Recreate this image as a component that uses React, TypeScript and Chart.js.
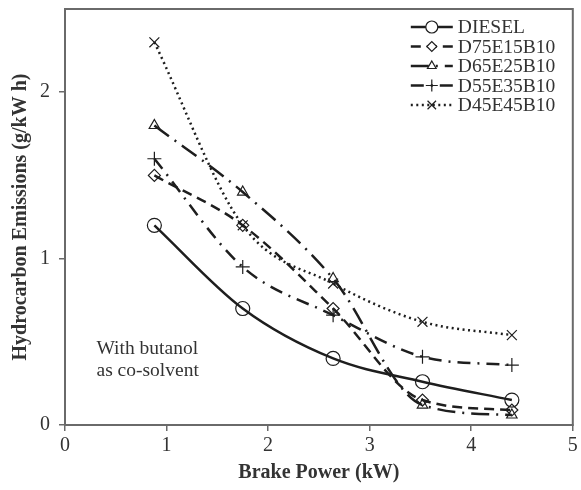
import React, { useEffect, useRef } from 'react';
import { Chart, registerables } from 'chart.js';
import { drawPoint } from 'chart.js/helpers';

Chart.register(...registerables);

// Brake power (kW) at each load step
const brakePower = [0.88, 1.75, 2.64, 3.52, 4.4];

// Hydrocarbon emissions (g/kW h) per fuel blend
const diesel = [1.2, 0.7, 0.4, 0.26, 0.15];
const d75e15b10 = [1.5, 1.2, 0.7, 0.15, 0.09];
const d65e25b10 = [1.8, 1.4, 0.88, 0.12, 0.06];
const d55e35b10 = [1.6, 0.95, 0.66, 0.41, 0.36];
const d45e45b10 = [2.3, 1.2, 0.85, 0.62, 0.54];

const seriesNames = ['DIESEL', 'D75E15B10', 'D65E25B10', 'D55E35B10', 'D45E45B10'];

const xTicks = [0, 1, 2, 3, 4, 5];
const yTicks = [0, 1, 2];

const noteLines = ['With butanol', 'as co-solvent'];

const FONT = '"Liberation Serif", "Times New Roman", serif';
const INK = '#1e1e1e';
const TEXT = '#333333';
const FRAME = '#6a6a6a';

const styles = [
  { dash: [], point: 'circle', radius: 7 },
  { dash: [10, 6], point: 'rectRot', radius: 6 },
  { dash: [18, 7, 2, 7], point: 'triangle', radius: 6 },
  { dash: [13, 7, 2, 7], point: 'cross', radius: 7 },
  { dash: [2, 3.5], point: 'crossRot', radius: 7 },
];

const frameAndLegend = {
  id: 'frameAndLegend',
  afterDraw(chart: any) {
    const { ctx, chartArea, scales } = chart;
    ctx.save();
    // full box around the plot
    ctx.strokeStyle = FRAME;
    ctx.lineWidth = 2;
    ctx.setLineDash([]);
    ctx.strokeRect(chartArea.left, chartArea.top, chartArea.right - chartArea.left, chartArea.bottom - chartArea.top);

    // legend with line samples
    const x0 = chartArea.right - 162;
    const x1 = chartArea.right - 120;
    ctx.font = `19.5px ${FONT}`;
    ctx.textBaseline = 'middle';
    ctx.textAlign = 'left';
    chart.data.datasets.forEach((ds: any, i: number) => {
      const y = chartArea.top + 18 + i * 19.5;
      ctx.strokeStyle = INK;
      ctx.lineWidth = ds.borderWidth;
      ctx.setLineDash(ds.borderDash || []);
      ctx.beginPath();
      ctx.moveTo(x0, y);
      ctx.lineTo(x1, y);
      ctx.stroke();
      ctx.setLineDash([]);
      ctx.fillStyle = '#ffffff';
      ctx.strokeStyle = INK;
      ctx.lineWidth = 1.2;
      drawPoint(ctx, { pointStyle: ds.pointStyle, radius: ds.pointRadius - 1, borderWidth: 1.2, rotation: 0 }, (x0 + x1) / 2, y);
      ctx.fillStyle = TEXT;
      ctx.fillText(ds.label, x1 + 5, y + 1);
    });

    // annotation
    ctx.font = `19.5px ${FONT}`;
    ctx.fillStyle = TEXT;
    const nx = scales.x.getPixelForValue(0.31);
    const ny = scales.y.getPixelForValue(0.46);
    noteLines.forEach((t, i) => ctx.fillText(t, nx, ny + i * 22));
    ctx.restore();
  },
};

export default function App() {
  const ref = useRef<HTMLCanvasElement>(null);

  useEffect(() => {
    const values = [diesel, d75e15b10, d65e25b10, d55e35b10, d45e45b10];
    const chart = new Chart(ref.current!, {
      type: 'line',
      data: {
        datasets: values.map((v, i) => ({
          label: seriesNames[i],
          data: v.map((y, j) => ({ x: brakePower[j], y })),
          borderColor: INK,
          borderWidth: 2.5,
          borderDash: styles[i].dash,
          pointStyle: styles[i].point as any,
          pointRadius: styles[i].radius,
          pointBorderWidth: 1.2,
          pointBorderColor: INK,
          pointBackgroundColor: i === 3 || i === 4 ? INK : 'rgba(255,255,255,0)',
          cubicInterpolationMode: 'monotone' as const,
          fill: false,
        })),
      },
      options: {
        animation: false,
        responsive: false,
        layout: { padding: { top: 9, right: 6, left: 0, bottom: 0 } },
        plugins: { legend: { display: false }, tooltip: { enabled: false } },
        scales: {
          x: {
            type: 'linear',
            min: 0,
            max: 5,
            afterBuildTicks: (s: any) => { s.ticks = xTicks.map((v) => ({ value: v })); },
            afterFit: (s: any) => { s.height = 65; s.paddingLeft = 0; s.paddingRight = 0; },
            grid: { drawOnChartArea: false, drawTicks: true, tickLength: 6, color: FRAME, lineWidth: 1.5 },
            border: { display: true, color: FRAME, width: 2 },
            ticks: { color: TEXT, font: { family: FONT, size: 20 }, padding: 3, maxRotation: 0 },
            title: { display: true, text: 'Brake Power (kW)', color: TEXT, font: { family: FONT, size: 20, weight: 'bold' }, padding: { top: 0, bottom: 5 } },
          },
          y: {
            type: 'linear',
            min: 0,
            max: 2.5,
            afterBuildTicks: (s: any) => { s.ticks = yTicks.map((v) => ({ value: v })); },
            afterFit: (s: any) => { s.width = 65; s.paddingTop = 0; s.paddingBottom = 0; },
            grid: { drawOnChartArea: false, drawTicks: true, tickLength: 6, color: FRAME, lineWidth: 1.5 },
            border: { display: true, color: FRAME, width: 2 },
            ticks: { color: TEXT, font: { family: FONT, size: 20 }, padding: 9 },
            title: { display: true, text: 'Hydrocarbon Emissions (g/kW h)', color: TEXT, font: { family: FONT, size: 20, weight: 'bold' }, padding: { top: 9, bottom: 0 } },
          },
        },
      },
      plugins: [frameAndLegend],
    });
    return () => chart.destroy();
  }, []);

  return (
    <div style={{ position: 'fixed', left: 0, top: 0, width: 581, height: 490, background: '#fff' }}>
      <canvas ref={ref} width={581} height={490} />
    </div>
  );
}
